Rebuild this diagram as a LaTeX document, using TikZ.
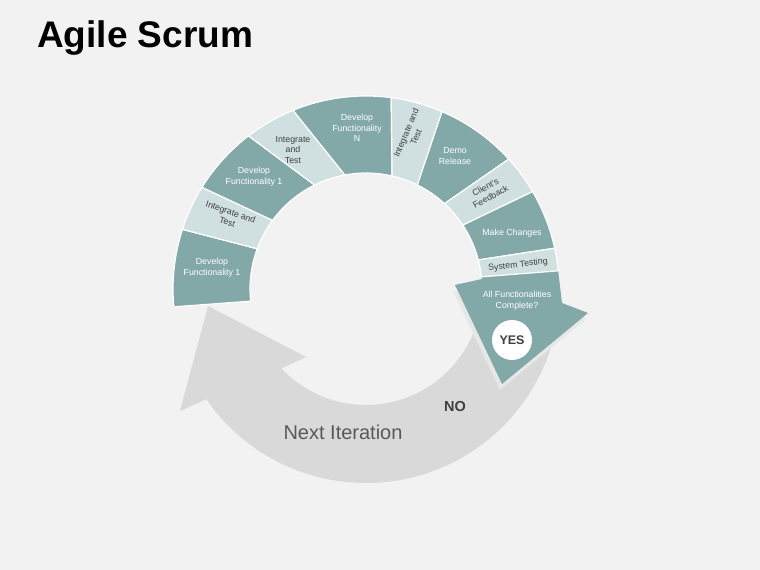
\documentclass[tikz,border=0pt]{standalone}
\usepackage{fontspec}
\setmainfont{Liberation Sans}
\definecolor{bgc}{RGB}{242,242,242}
\definecolor{tealdk}{RGB}{130,168,168}
\definecolor{teallt}{RGB}{208,224,224}
\definecolor{ringgray}{RGB}{217,217,217}
\definecolor{txtdk}{RGB}{64,64,64}
\definecolor{txtgray}{RGB}{89,89,89}
\definecolor{shadowc}{RGB}{230,231,231}
\newcommand\ringseg[5]{%
  \path[#5] ([shift={(#1:193pt)}]C) arc[start angle=#1, end angle=#2, radius=193pt]
    -- ([shift={(#3:116pt)}]C) arc[start angle=#3, end angle=#4, radius=116pt] -- cycle;}
\begin{document}
\begin{tikzpicture}[x=1pt,y=1pt,
  darkseg/.style={fill=tealdk, draw=white, line width=1.2pt},
  lightseg/.style={fill=teallt, draw=white, line width=1.2pt},
  dlabel/.style={text=white, font=\fontsize{8.8}{10.8}\selectfont, align=center, inner sep=0pt},
  llabel/.style={text=txtdk, font=\fontsize{8.8}{10.8}\selectfont, align=center, inner sep=0pt}]
\fill[bgc] (0,0) rectangle (760,570);
\path[use as bounding box] (0,0) rectangle (760,570);
\coordinate (C) at (366,281);

% title
\node[anchor=base west, inner sep=0pt, font=\bfseries\fontsize{37}{40}\selectfont] (title) at (37,522) {Agile Scrum};

% grey return arrow
\fill[ringgray] ([shift={(214.6:194pt)}]C) arc[start angle=214.6, end angle=350, radius=194pt]
  -- ([shift={(350:116pt)}]C) arc[start angle=350, end angle=223.2, radius=116pt]
  -- (306,213) -- (208,264) -- (180,159) -- cycle;

% teal decision arrow with shadow
\fill[shadowc] ([shift={(-2,-6)}]455,285) -- ([shift={(-2,-6)}]588,257) -- ([shift={(-2,-6)}]502,186) -- cycle;
\fill[tealdk] ([shift={(6:116pt)}]C) -- ([shift={(5.4:193pt)}]C) -- (562,267) -- (588,257)
  -- (502,186) -- (455,285) -- (482,291) -- cycle;

% ring segments
\ringseg{185.3}{162}{159.7}{186}{darkseg}
\ringseg{162}{148.2}{143.7}{159.7}{lightseg}
\ringseg{148.2}{127.5}{116.3}{143.7}{darkseg}
\ringseg{127.5}{112.2}{100.5}{116.3}{lightseg}
\ringseg{112.2}{82.5}{77}{100.5}{darkseg}
\ringseg{82.5}{66.8}{63.7}{77}{lightseg}
\ringseg{66.8}{42.3}{47.4}{63.7}{darkseg}
\ringseg{42.3}{30.3}{33.4}{47.4}{lightseg}
\ringseg{30.3}{12.2}{14.5}{33.4}{darkseg}
\ringseg{12.2}{5.4}{6}{14.5}{lightseg}

% labels
\node[dlabel] (s1) at (212,302) {Develop\\Functionality 1};
\node[llabel, rotate=-19] (s2) at (229,353) {Integrate and\\Test};
\node[dlabel] (s3) at (254,393) {Develop\\Functionality 1};
\node[llabel] (s4) at (293,420) {Integrate\\and\\Test};
\node[dlabel] (s5) at (357,442) {Develop\\Functionality\\N};
\node[llabel, rotate=67] (s6) at (411,435) {Integrate and\\Test};
\node[dlabel] (s7) at (455,414) {Demo\\Release};
\node[llabel, rotate=29] (s8) at (488,378) {Client’s\\Feedback};
\node[dlabel] (s9) at (512,337) {Make Changes};
\node[llabel, rotate=7] (s10) at (518,305) {System Testing};
\node[dlabel] (q) at (517,269) {All Functionalities\\Complete?};

\node[circle, fill=white, minimum size=40pt, inner sep=0pt, text=txtdk,
  font=\bfseries\fontsize{12.5}{14}\selectfont] (yes) at (512,230) {YES};
\node[text=txtdk, font=\bfseries\fontsize{14.5}{16}\selectfont] (no) at (455,163) {NO};
\node[text=txtgray, font=\fontsize{20}{22}\selectfont] (next) at (343,138) {Next Iteration};
\end{tikzpicture}
\end{document}
